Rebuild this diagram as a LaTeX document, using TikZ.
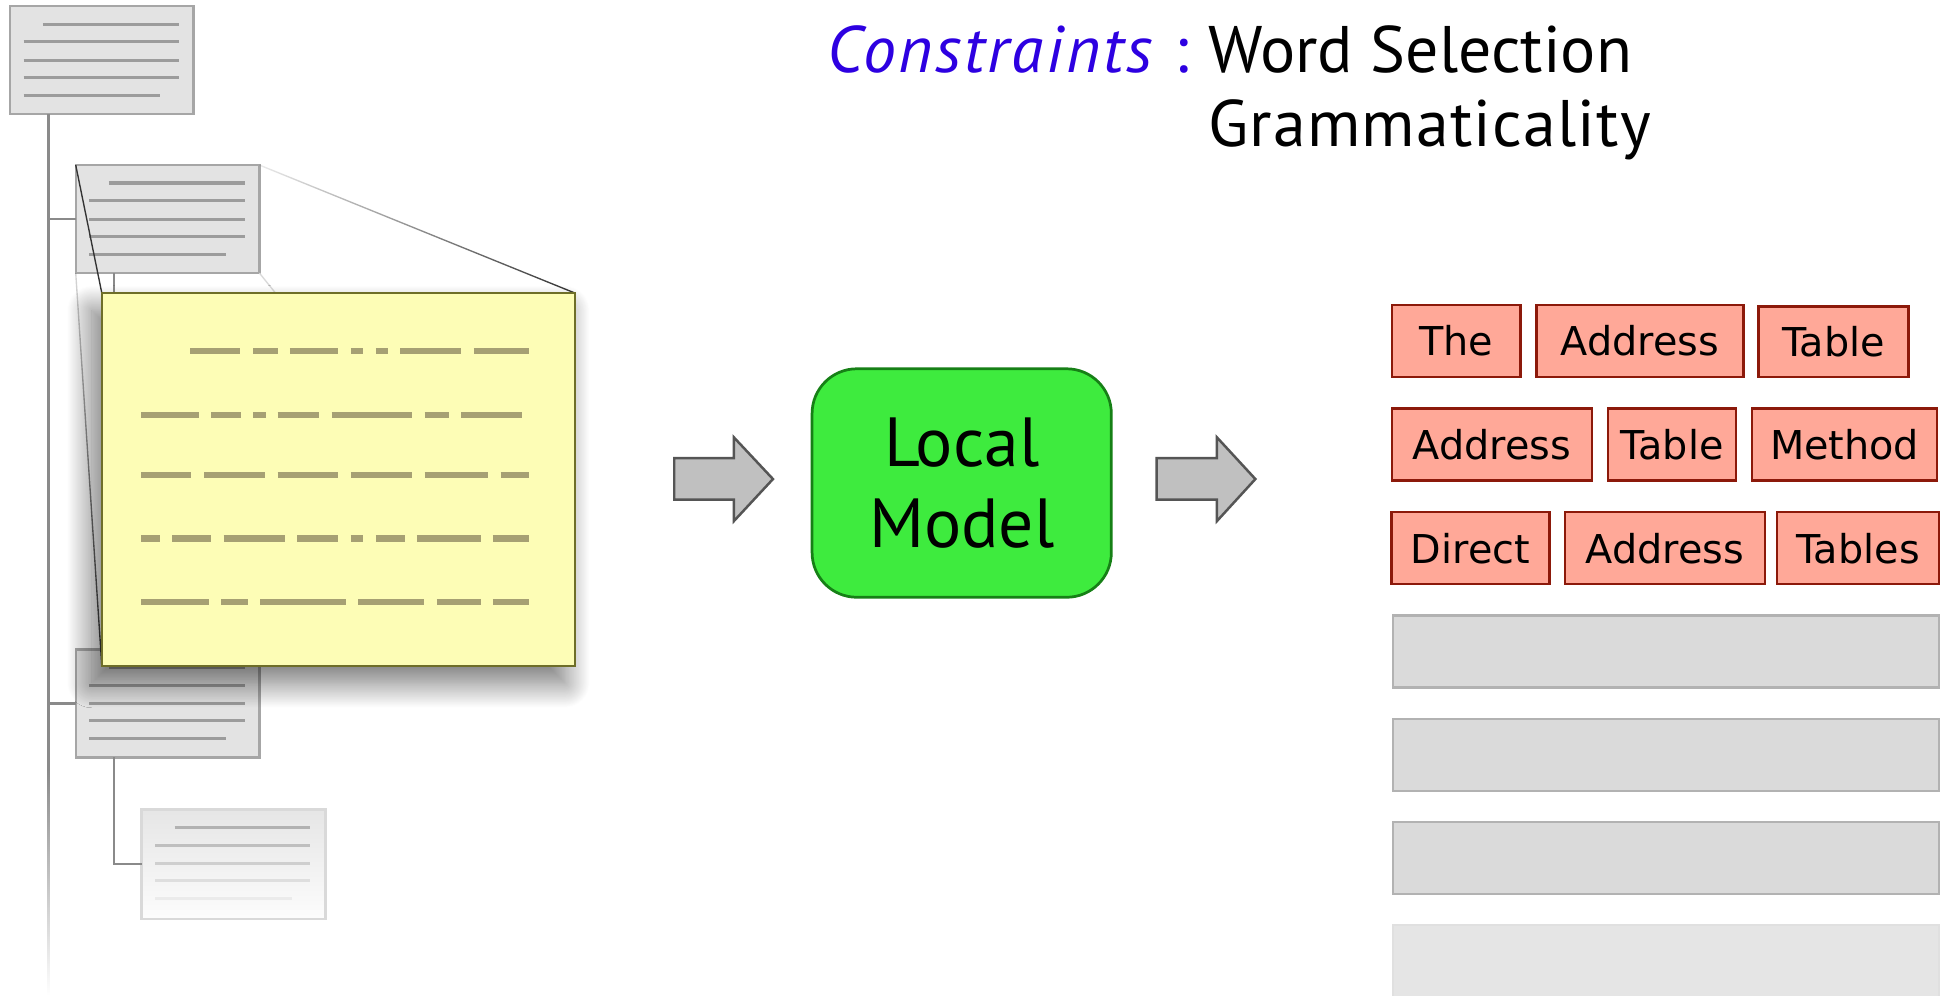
\documentclass[tikz,border=0pt]{standalone}
\usepackage{fontspec}
\setmainfont{PT Sans}
\newfontfamily\wordfont{DejaVu Sans}
\usetikzlibrary{calc,shadows.blur,fadings}

\definecolor{treefill}{RGB}{227,227,227}
\definecolor{treeedge}{RGB}{166,166,166}
\definecolor{treeline}{RGB}{156,156,156}
\definecolor{trunkcol}{RGB}{138,138,138}
\definecolor{notefill}{RGB}{253,253,182}
\definecolor{noteedge}{RGB}{110,110,40}
\definecolor{dashcol}{RGB}{166,160,115}
\definecolor{modelfill}{RGB}{62,235,62}
\definecolor{modeledge}{RGB}{22,128,22}
\definecolor{arrowfill}{RGB}{192,192,192}
\definecolor{arrowedge}{RGB}{85,85,85}
\definecolor{wordfill}{RGB}{255,168,152}
\definecolor{wordedge}{RGB}{140,25,10}
\definecolor{slotfill}{RGB}{218,218,218}
\definecolor{slotedge}{RGB}{178,178,178}
\definecolor{constrblue}{RGB}{45,0,225}

% lines that grow darker towards their far end
\tikzfading[name=growright, left color=transparent!90, right color=transparent!0]
\tikzfading[name=growdown, top color=transparent!80, bottom color=transparent!0]

% five text lines of a small outline page, relative to its top-left corner
\newcommand\pagelines[2][treeline]{%
  \begin{scope}[shift={(#2.north west)}]
    \draw[#1, line width=2.5pt] (26.6,14.4) -- (136,14.4);
    \draw[#1, line width=2.5pt] (11,28.7) -- (136,28.7);
    \draw[#1, line width=2.5pt] (11,43.5) -- (136,43.5);
    \draw[#1, line width=2.5pt] (11,57.4) -- (136,57.4);
    \draw[#1, line width=2.5pt] (11,71.9) -- (121,71.9);
  \end{scope}}

\begin{document}
\begin{tikzpicture}[x=1pt,y=-1pt,
  treebox/.style={draw=treeedge, fill=treefill, line width=2pt,
    minimum width=148pt, minimum height=87pt, inner sep=0pt, outer sep=0pt,
    anchor=north west},
  conn/.style={draw=trunkcol, line width=2pt},
  zoomline/.style={draw=black!80, line width=1.1pt},
  notebox/.style={draw=noteedge, fill=notefill, line width=1.6pt,
    minimum width=381pt, minimum height=300pt, inner sep=0pt, outer sep=0pt,
    anchor=north west,
    blur shadow={shadow xshift=-8pt, shadow yshift=-14pt,
      shadow blur radius=20pt, shadow blur steps=30, shadow opacity=55}},
  dashseg/.style={draw=dashcol, line width=5pt, line cap=butt},
  modelbox/.style={draw=modeledge, fill=modelfill, line width=2.2pt,
    rounded corners=36pt, minimum width=241pt, minimum height=184pt,
    inner sep=0pt, align=center,
    font=\fontsize{56}{65}\selectfont},
  blockarrow/.style={draw=arrowedge, fill=arrowfill, line width=2pt,
    line join=miter},
  wordbox/.style={draw=wordedge, fill=wordfill, line width=2pt,
    minimum height=58pt, inner sep=0pt,
    font=\wordfont\fontsize{32}{32}\selectfont},
  slotbox/.style={draw=slotedge, fill=slotfill, line width=2pt,
    minimum width=439.5pt, minimum height=58pt, inner sep=0pt,
    anchor=north west},
  headline/.style={inner sep=0pt, anchor=base west,
    font=\fontsize{53}{60}\selectfont}
]
\useasboundingbox (0,0) rectangle (1568,802);

% ---------- document outline tree ----------
\node[treebox] (b1) at (8,5) {};
\node[treebox] (b2) at (61,133) {};
\node[treebox] (b3) at (61,523) {};
\node[treebox, minimum height=88pt, draw=black!15, top color=black!10,
      bottom color=black!1] (b4) at (114,652) {};

\coordinate (trunktop) at ($(b1.south west)+(31,0)$);
\coordinate (trunkfade) at (39,620);
\draw[conn] (trunktop) -- (trunkfade);
\shade[top color=trunkcol, bottom color=white] (38,620) rectangle (40,802);
\draw[conn] (trunktop |- b2.west) -- (b2.west);
\draw[conn] (trunktop |- b3.west) -- (b3.west);
\draw[conn] ($(b2.south west)+(31,0)$) -- ++(0,20);
\draw[conn] ($(b3.south west)+(31,0)$) |- (b4.west);

\pagelines{b1}
\pagelines{b2}
\pagelines{b3}
\begin{scope}[shift={(b4.north west)}]
  \draw[black!30, line width=2.5pt] (26.6,14.4) -- (136,14.4);
  \draw[black!25, line width=2.5pt] (11,28.7) -- (136,28.7);
  \draw[black!19, line width=2.5pt] (11,43.5) -- (136,43.5);
  \draw[black!13, line width=2.5pt] (11,57.4) -- (136,57.4);
  \draw[black!8, line width=2.5pt] (11,71.9) -- (121,71.9);
\end{scope}

% ---------- magnified page ----------
\coordinate (zoomnw) at (82,236);
\coordinate (zoomne) at (463,236);
\coordinate (zoomsw) at (82,536);
\coordinate (zoomse) at (463,536);
\draw[zoomline] (b2.north west) -- (zoomnw);
\draw[zoomline, path fading=growright] (b2.north east) -- (zoomne);
\draw[zoomline, path fading=growdown] (b2.south west) -- (zoomsw);
\draw[zoomline, draw=black!15] (b2.south east) -- (zoomse);

\node[notebox] (note) at (zoomnw) {};

\begin{scope}[shift={(note.north west)}, x=0.30726pt]
  \foreach \a/\b in {497/628,662/726,758/885,918/950,983/1015,1047/1207,1240/1384}
    \draw[dashseg] ({\a-265},46.7) -- ({\b-265},46.7);
  \foreach \a/\b in {368/520,552/630,662/694,726/835,867/1078,1111/1175,1207/1367}
    \draw[dashseg] ({\a-265},98) -- ({\b-265},98);
  \foreach \a/\b in {368/500,533/693,726/885,918/1078,1111/1277,1310/1384}
    \draw[dashseg] ({\a-265},146.4) -- ({\b-265},146.4);
  \foreach \a/\b in {368/417,449/552,584/745,777/885,918/950,983/1059,1091/1258,1290/1384}
    \draw[dashseg] ({\a-265},197.7) -- ({\b-265},197.7);
  \foreach \a/\b in {368/546,578/648,680/905,937/1110,1143/1258,1290/1384}
    \draw[dashseg] ({\a-265},249) -- ({\b-265},249);
\end{scope}

% ---------- model and flow arrows ----------
\node[modelbox] (model) at (774.5,389) {Local\\Model};

\draw[blockarrow] (543,369) -- (591,369) -- (591,352.2) -- (622.5,385.8)
  -- (591,419.7) -- (591,402.3) -- (543,402.3) -- cycle;
\draw[blockarrow] (931.5,369) -- (980,369) -- (980,352.2) -- (1011,385.8)
  -- (980,419.7) -- (980,402.3) -- (931.5,402.3) -- cycle;

% ---------- constraints ----------
\node[headline, text=constrblue,
      font=\fontsize{53}{60}\selectfont\itshape\addfontfeature{LetterSpace=4}]
  (constr) at (666,58) {Constraints};
\node[headline, text=constrblue] (colon) at (946,58) {:};
\node[headline] (wsel) at (973,58) {Word Selection};
\node[headline, font=\fontsize{53}{60}\selectfont\addfontfeature{LetterSpace=1.8}]
  (gram) at (973,118) {Grammaticality};

% ---------- candidate word lattice ----------
\node[wordbox, minimum width=103.5pt] (w11) at (1172.8,274.5) {The};
\node[wordbox, minimum width=166.6pt] (w12) at (1320.7,274.5) {Address};
\node[wordbox, minimum width=121pt, minimum height=57pt] (w13) at (1476.5,275.2) {Table};
\node[wordbox, minimum width=161pt] (w21) at (1201.6,358) {Address};
\node[wordbox, minimum width=103pt] (w22) at (1346.6,358) {Table};
\node[wordbox, minimum width=149pt] (w23) at (1485.5,358) {Method};
\node[wordbox, minimum width=127pt] (w31) at (1184.2,441.5) {Direct};
\node[wordbox, minimum width=161pt] (w32) at (1340.7,441.5) {Address};
\node[wordbox, minimum width=130.7pt] (w33) at (1496.3,441.5) {Tables};

\node[slotbox] (s1) at (1121,494.5) {};
\node[slotbox] (s2) at (1121,578) {};
\node[slotbox] (s3) at (1121,661) {};
\node[slotbox, draw=black!12, fill=black!10, minimum height=60pt] (s4) at (1121,744) {};
\end{tikzpicture}
\end{document}
